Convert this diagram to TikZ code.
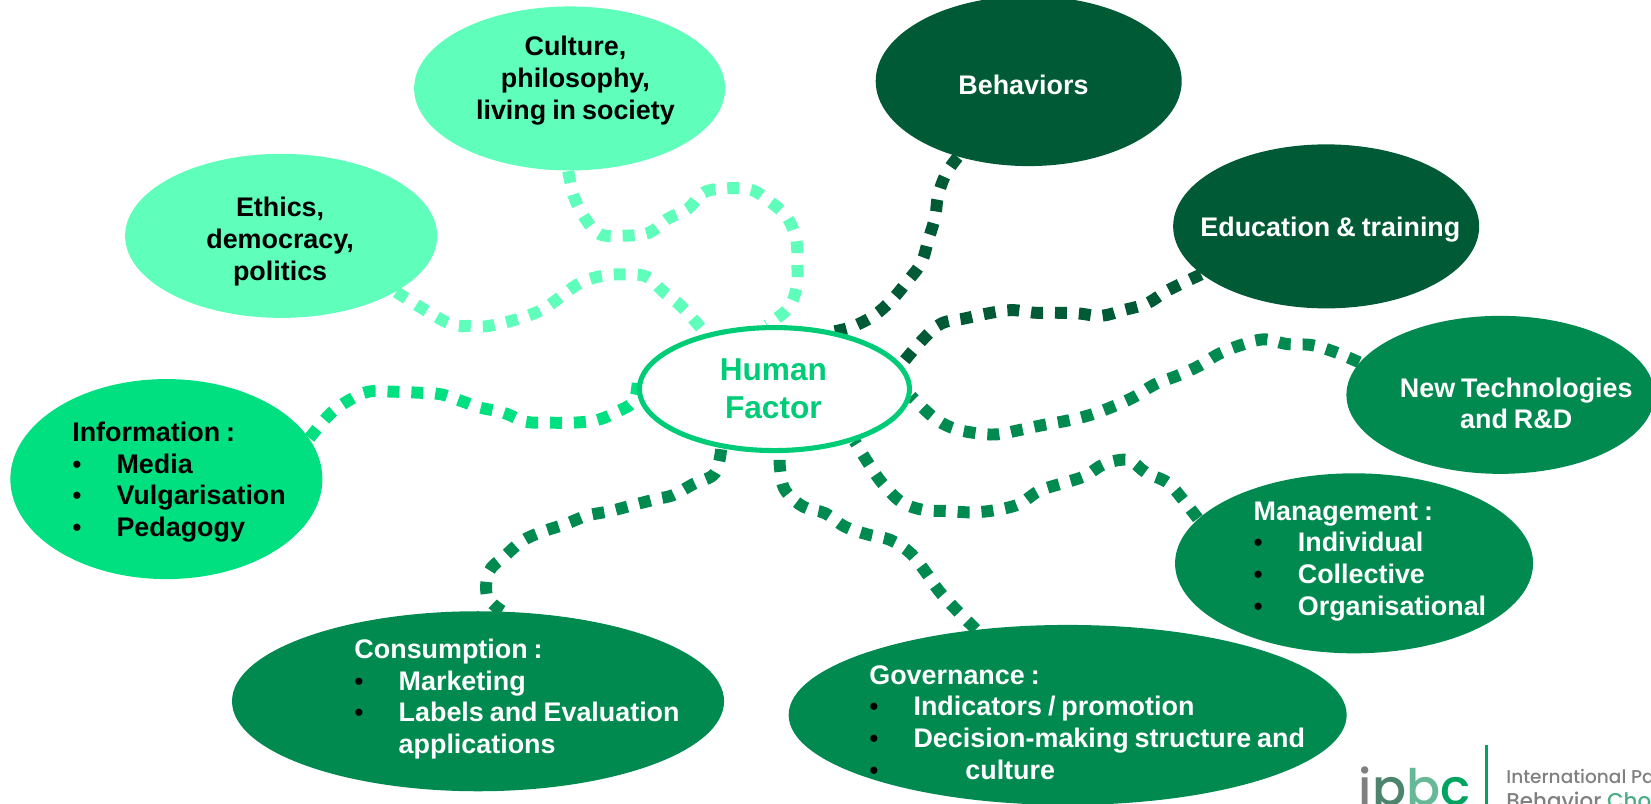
\documentclass[tikz,border=0pt]{standalone}
\usepackage{fontspec}
\setmainfont[WordSpace=0.8]{Liberation Sans}
\newfontfamily\logofont[UprightFont=* Medium]{Poppins}
\usetikzlibrary{shapes.geometric}
\pgfdeclarelayer{linklayer}
\pgfsetlayers{linklayer,main}
\definecolor{cLight}{HTML}{5FFFBB}
\definecolor{cBright}{HTML}{00E080}
\definecolor{cDark}{HTML}{005A36}
\definecolor{cMid}{HTML}{008A50}
\definecolor{cRing}{HTML}{00CC78}
\definecolor{cGrey}{HTML}{808080}
\newcommand{\bulmark}{\textcolor{black}{\normalfont\fontsize{7.5pt}{9pt}\selectfont\textbullet}}
\newcommand{\bl}[1]{\makebox[0.442cm][l]{\bulmark}#1}
\tikzset{
  blob/.style={ellipse,inner sep=0pt,draw=none},
  lightblob/.style={blob,fill=cLight},
  brightblob/.style={blob,fill=cBright},
  darkblob/.style={blob,fill=cDark},
  midblob/.style={blob,fill=cMid},
  label/.style={font=\fontsize{7.65pt}{9pt}\selectfont\bfseries,inner sep=0pt},
  blacklabel/.style={label,text=black},
  whitelabel/.style={label,text=white},
  link/.style={line width=3.4pt,dash pattern=on 3.4pt off 3.4pt},
  lightlink/.style={link,draw=cLight},
  brightlink/.style={link,draw=cBright},
  darklink/.style={link,draw=cDark},
  midlink/.style={link,draw=cMid},
}
\begin{document}
\begin{tikzpicture}[x=0.01053cm,y=-0.01053cm]
\useasboundingbox (0,0) rectangle (1568,763.5);
\clip (0,0) rectangle (1568,763.5);
% ellipses
\node[lightblob,minimum width=3.11cm,minimum height=1.64cm] (culture) at (541,84) {};
\node[darkblob,minimum width=3.06cm,minimum height=1.70cm] (behav) at (977,77) {};
\node[lightblob,minimum width=3.12cm,minimum height=1.64cm] (ethics) at (267,224) {};
\node[darkblob,minimum width=3.06cm,minimum height=1.64cm] (edu) at (1259.5,215) {};
\node[midblob,minimum width=3.08cm,minimum height=1.58cm] (tech) at (1425,375) {};
\node[midblob,minimum width=3.58cm,minimum height=1.80cm] (mgmt) at (1286,535) {};
\node[midblob,minimum width=5.58cm,minimum height=1.80cm] (gov) at (1014,679) {};
\node[midblob,minimum width=4.92cm,minimum height=1.80cm] (cons) at (454,666) {};
\node[brightblob,minimum width=3.12cm,minimum height=2.00cm] (info) at (158,455) {};
\node[ellipse,inner sep=0pt,draw=cRing,line width=1.45pt,fill=white,minimum width=2.70cm,minimum height=1.23cm] (hf) at (735.5,369.5) {};
% connectors, behind the ellipses
\begin{pgfonlayer}{linklayer}
\draw[lightlink] plot[smooth,tension=0.6] coordinates {(culture.-91) (545.4,187.4) (555.6,207.4) (569.8,222.5) (593.5,223.8) (616.6,221) (633.7,208) (653.7,197.9) (668.6,182.7) (691,178.8) (713.8,180.4) (731.2,191.5) (747,205.7) (755.9,226.3) (757.2,249.5) (756.6,272.2) (748.6,292.8) (hf.97)};
\draw[lightlink] plot[smooth,tension=0.6] coordinates {(ethics.-26) (424.2,306.1) (446.3,309.6) (469.4,308.6) (512.2,295.4) (547.6,270.7) (568.2,262.8) (591,260.5) (614.1,262.8) (629.9,277) (647.4,291.3) (hf.141)};
\draw[darklink] plot[smooth,tension=0.6] coordinates {(behav.-133) (898.7,164.6) (891,185.2) (888.2,205.8) (881.8,227.3) (875,249.5) (861.4,267.6) (846.8,285) (829.9,299.8) (809.5,310.3) (hf.44.5)};
\draw[darklink] plot[smooth,tension=0.6] coordinates {(edu.-159) (1109.7,275.5) (1089.4,288.1) (1067.3,294.5) (1046,299.9) (1023.2,297.6) (1000.2,297) (982.5,297) (960.5,294.5) (938.4,297.6) (916.4,302.4) (894.3,307.1) (877.4,321.4) (hf.11.5)};
\draw[midlink] plot[smooth,tension=0.6] coordinates {(tech.167) (1266.8,334) (1245.4,327.7) (1222.7,326.8) (1200.6,322.3) (1178.6,327.7) (1157.2,336.3) (1138.6,347.6) (1118.2,356.8) (1096.8,365) (1077.5,376.8) (1056.5,386.3) (1035,394.2) (1013,399.6) (990.3,403.7) (968.3,408.4) (945.9,412.6) (924.2,411) (903.8,406.2) (885.8,395.8) (hf.-3.5)};
\draw[midlink] plot[smooth,tension=0.6] coordinates {(mgmt.164.6) (1123.8,474.9) (1108.9,458.4) (1088.3,448.9) (1071.6,436.9) (1048.8,440.7) (1030.4,452.1) (1008.9,459) (986.7,466.3) (968,478.7) (945.6,484.4) (922.8,486.6) (900,485.3) (877.5,484.4) (856.9,477.4) (841.4,462.9) (829.4,447.3) (hf.-33)};
\draw[midlink] plot[smooth,tension=0.6] coordinates {(gov.137) (905.3,576.2) (891.1,560.4) (878.4,542.3) (864.2,524.9) (845.8,512.9) (823.7,507.5) (802.4,500.2) (783.5,487.4) (762.9,481.2) (745.5,465.3) (740.7,444.1) (hf.-85)};
\draw[midlink] plot[smooth,tension=0.6] coordinates {(cons.75.7) (462.8,566.7) (464.4,542.9) (479.6,528) (496.4,513.5) (515.1,505) (537.2,497.7) (557.2,489.8) (580,485.3) (601.5,479.6) (623.7,473.9) (639.5,470.1) (658.5,459.7) (679,449.5) (hf.-132)};
\draw[brightlink] plot[smooth,tension=0.6] coordinates {(info.16.5) (313.4,393.2) (330.8,380.5) (349.8,372) (373.5,372) (396.3,372.9) (418.8,374.5) (440,381.5) (454.9,386.9) (478,391.9) (499.6,400.5) (522.4,401.4) (545.1,401.4) (567.3,398.9) (584.1,391.9) (601.5,381.5) (hf.177)};
\end{pgfonlayer}
% labels
\node[blacklabel,align=center] (tculture) at (546.5,76.5) {Culture,\\philosophy,\\living in society};
\node[whitelabel] (tbehav) at (972,81) {Behaviors};
\node[blacklabel,align=center] (tethics) at (266,229.5) {Ethics,\\democracy,\\politics};
\node[whitelabel] (tedu) at (1263.5,218) {Education \& training};
\node[whitelabel,align=center] (ttech) at (1440,383) {New Technologies\\and R\&D};
\node[blacklabel,align=left,anchor=west] (tinfo) at (68,458) {Information :\\\bl{Media}\\\bl{Vulgarisation}\\\bl{Pedagogy}};
\node[whitelabel,align=left,anchor=west] (tmgmt) at (1190,533) {Management :\\\bl{Individual}\\\bl{Collective}\\\bl{Organisational}};
\node[whitelabel,align=left,anchor=west] (tcons) at (336,664) {Consumption :\\\bl{Marketing}\\\bl{Labels and Evaluation}\\\hspace*{0.442cm}applications};
\node[whitelabel,align=left,anchor=west] (tgov) at (825,686) {Governance :\\\bl{Indicators / promotion}\\\bl{Decision-making structure and}\\\makebox[0.96cm][l]{\bulmark}culture};
\node[label,text=cRing,align=center,font=\fontsize{9pt}{10.8pt}\selectfont\bfseries] (thf) at (734.5,369.5) {Human\\Factor};
% logo
\node[inner sep=0pt,anchor=base west,font=\logofont\fontsize{14.3pt}{17pt}\selectfont] (tlogo) at (1290,765) {\textcolor{cGrey}{i}\textcolor{cGrey!60!cMid}{p}\textcolor{cMid!60!white}{b}\textcolor{cRing!80!black}{c}};
\coordinate (rulebottom) at (1411.8,764);
\coordinate (ruletop) at (1411.8,707.5);
\draw[cRing!80!black,line width=0.9pt] (ruletop) -- (rulebottom);
\node[inner sep=0pt,anchor=base west,font=\logofont\fontsize{5.27pt}{6pt}\selectfont,text=cGrey] (tlogo2) at (1430,744) {International Panel};
\node[inner sep=0pt,anchor=base west,font=\logofont\fontsize{6.1pt}{6pt}\selectfont] (tlogo3) at (1430,768) {\textcolor{cGrey}{Behavior} \textcolor{cMid!70!white}{Choice}};
\end{tikzpicture}
\end{document}
